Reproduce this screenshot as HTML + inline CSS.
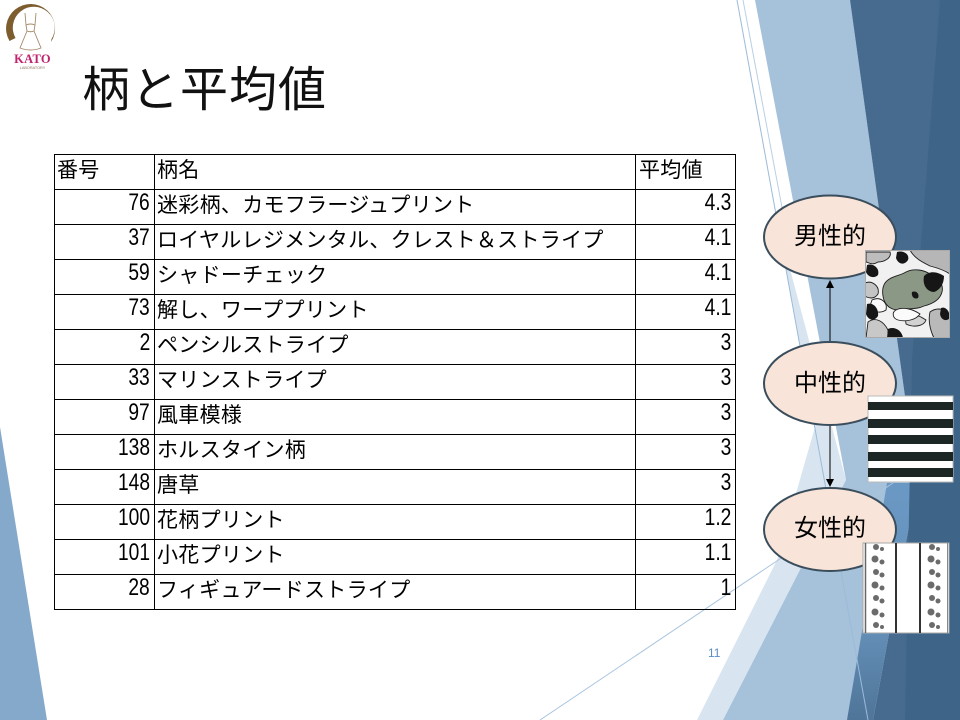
<!DOCTYPE html>
<html>
<head>
<meta charset="utf-8">
<style>
  html,body{margin:0;padding:0;}
  body{width:960px;height:720px;overflow:hidden;background:#ffffff;position:relative;
       font-family:"Liberation Sans","Noto Sans CJK JP",sans-serif;color:#000;}
  svg.layer{position:absolute;left:0;top:0;}
  .title{position:absolute;left:82px;top:67px;font-size:48px;line-height:48px;letter-spacing:1px;
         font-family:"Liberation Sans","Noto Sans CJK JP",sans-serif;white-space:nowrap;color:#111;}
  .t{position:absolute;height:35px;line-height:35px;font-size:21px;letter-spacing:0.3px;white-space:nowrap;}
  .num{position:absolute;height:24px;line-height:24px;font-size:24px;white-space:nowrap;text-align:right;}
  .num span{display:inline-block;transform:scaleX(0.8);transform-origin:right center;}
  .pg{position:absolute;left:708px;top:646px;font-size:12px;line-height:14px;color:#5a8dc2;}
</style>
</head>
<body>

<!-- background decoration -->
<svg class="layer" width="960" height="720" viewBox="0 0 960 720">
  <defs>
    <linearGradient id="mg" x1="0" y1="0" x2="0" y2="1">
      <stop offset="0" stop-color="#6a98c4"/>
      <stop offset="0.6" stop-color="#6590b9"/>
      <stop offset="1" stop-color="#4f7598"/>
    </linearGradient>
  </defs>
  <!-- left bottom triangle -->
  <polygon points="0,427 47,720 0,720" fill="#85a9cb"/>
  <!-- very light triangle -->
  <polygon points="777,220 846,480 723,720 697,720 777,560 815,427" fill="#d8e5f0"/>
  <!-- light band -->
  <polygon points="755,0 850,0 917,483 847,720 723,720 846,480" fill="#a6c1da"/>
  <!-- medium blue -->
  <polygon points="887,483 917,483 873,720 847,720" fill="url(#mg)"/>
  <!-- dark -->
  <polygon points="850,0 960,0 960,720 873,720 917,483" fill="#466b8e"/>
  <polygon points="940,0 960,0 960,720 905,720 912,360" fill="#3e6588"/>
  <!-- thin lines -->
  <line x1="737" y1="0" x2="868" y2="720" stroke="#9bbbd8" stroke-width="1"/>
  <line x1="743" y1="0" x2="790" y2="250" stroke="#b9cfe3" stroke-width="1"/>
  <line x1="540" y1="720" x2="893" y2="483" stroke="#a9c4de" stroke-width="1"/>

  <!-- logo -->
  <path d="M9.5,41 A24.5,24.5 0 1 1 51,42 L51.5,39 A21,21 0 1 0 15.5,38 Z" fill="#7d5c2e"/>
  <g fill="none" stroke="#a58a6a" stroke-width="0.9">
    <path d="M25,13 L26,25 M36,13 L35,25"/>
    <path d="M26,25 Q30.5,23 35,25 L34,31 Q30.5,32.5 27,31 Z"/>
    <path d="M27,31 L20,48 Q30.5,52 41,48 L34,31"/>
  </g>
  <text x="32.5" y="63" text-anchor="middle" font-family="Liberation Serif, serif" font-size="12.5" font-weight="bold" fill="#c0246e" letter-spacing="0.3">KATO</text>
  <text x="32.5" y="69" text-anchor="middle" font-family="Liberation Sans, sans-serif" font-size="3.8" fill="#8a7060">LABORATORY</text>
</svg>

<div class="title">柄と平均値</div>

<!-- table lines -->
<svg class="layer" width="960" height="720" viewBox="0 0 960 720">
  <g stroke="#000" stroke-width="1" shape-rendering="crispEdges">
    <line x1="54" y1="154.5" x2="735" y2="154.5"/>
    <line x1="54" y1="189.5" x2="735" y2="189.5"/>
    <line x1="54" y1="224.5" x2="735" y2="224.5"/>
    <line x1="54" y1="259.5" x2="735" y2="259.5"/>
    <line x1="54" y1="294.5" x2="735" y2="294.5"/>
    <line x1="54" y1="329.5" x2="735" y2="329.5"/>
    <line x1="54" y1="364.5" x2="735" y2="364.5"/>
    <line x1="54" y1="399.5" x2="735" y2="399.5"/>
    <line x1="54" y1="434.5" x2="735" y2="434.5"/>
    <line x1="54" y1="469.5" x2="735" y2="469.5"/>
    <line x1="54" y1="504.5" x2="735" y2="504.5"/>
    <line x1="54" y1="539.5" x2="735" y2="539.5"/>
    <line x1="54" y1="574.5" x2="735" y2="574.5"/>
    <line x1="54" y1="609.5" x2="735" y2="609.5"/>
    <line x1="54.5" y1="154" x2="54.5" y2="610"/>
    <line x1="154.5" y1="154" x2="154.5" y2="610"/>
    <line x1="635.5" y1="154" x2="635.5" y2="610"/>
    <line x1="735.5" y1="154" x2="735.5" y2="610"/>
  </g>
</svg>

<!-- header -->
<div class="t" style="left:57px;top:153px;">番号</div>
<div class="t" style="left:157px;top:153px;">柄名</div>
<div class="t" style="left:639px;top:153px;">平均値</div>

<!-- rows -->
<div class="num" style="left:54px;width:96px;top:191px;"><span>76</span></div>
<div class="t" style="left:157px;top:188px;">迷彩柄、カモフラージュプリント</div>
<div class="num" style="left:636px;width:95px;top:191px;"><span>4.3</span></div>

<div class="num" style="left:54px;width:96px;top:226px;"><span>37</span></div>
<div class="t" style="left:157px;top:223px;">ロイヤルレジメンタル、クレスト＆ストライプ</div>
<div class="num" style="left:636px;width:95px;top:226px;"><span>4.1</span></div>

<div class="num" style="left:54px;width:96px;top:261px;"><span>59</span></div>
<div class="t" style="left:157px;top:258px;">シャドーチェック</div>
<div class="num" style="left:636px;width:95px;top:261px;"><span>4.1</span></div>

<div class="num" style="left:54px;width:96px;top:296px;"><span>73</span></div>
<div class="t" style="left:157px;top:293px;">解し、ワーププリント</div>
<div class="num" style="left:636px;width:95px;top:296px;"><span>4.1</span></div>

<div class="num" style="left:54px;width:96px;top:331px;"><span>2</span></div>
<div class="t" style="left:157px;top:328px;">ペンシルストライプ</div>
<div class="num" style="left:636px;width:95px;top:331px;"><span>3</span></div>

<div class="num" style="left:54px;width:96px;top:366px;"><span>33</span></div>
<div class="t" style="left:157px;top:363px;">マリンストライプ</div>
<div class="num" style="left:636px;width:95px;top:366px;"><span>3</span></div>

<div class="num" style="left:54px;width:96px;top:401px;"><span>97</span></div>
<div class="t" style="left:157px;top:398px;">風車模様</div>
<div class="num" style="left:636px;width:95px;top:401px;"><span>3</span></div>

<div class="num" style="left:54px;width:96px;top:436px;"><span>138</span></div>
<div class="t" style="left:157px;top:433px;">ホルスタイン柄</div>
<div class="num" style="left:636px;width:95px;top:436px;"><span>3</span></div>

<div class="num" style="left:54px;width:96px;top:471px;"><span>148</span></div>
<div class="t" style="left:157px;top:468px;">唐草</div>
<div class="num" style="left:636px;width:95px;top:471px;"><span>3</span></div>

<div class="num" style="left:54px;width:96px;top:506px;"><span>100</span></div>
<div class="t" style="left:157px;top:503px;">花柄プリント</div>
<div class="num" style="left:636px;width:95px;top:506px;"><span>1.2</span></div>

<div class="num" style="left:54px;width:96px;top:541px;"><span>101</span></div>
<div class="t" style="left:157px;top:538px;">小花プリント</div>
<div class="num" style="left:636px;width:95px;top:541px;"><span>1.1</span></div>

<div class="num" style="left:54px;width:96px;top:576px;"><span>28</span></div>
<div class="t" style="left:157px;top:573px;">フィギュアードストライプ</div>
<div class="num" style="left:636px;width:95px;top:576px;"><span>1</span></div>

<div class="pg">11</div>

<!-- foreground: ellipses, arrows, images -->
<svg class="layer" width="960" height="720" viewBox="0 0 960 720">
  <!-- arrows -->
  <line x1="830" y1="342" x2="830" y2="287" stroke="#000" stroke-width="1"/>
  <polygon points="826,288 834,288 830,280" fill="#000"/>
  <line x1="830" y1="425" x2="830" y2="480" stroke="#000" stroke-width="1"/>
  <polygon points="826,479 834,479 830,487" fill="#000"/>

  <!-- ellipses -->
  <ellipse cx="830" cy="237" rx="66" ry="41.5" fill="#f8e4d8" stroke="#3a4d5c" stroke-width="2"/>
  <ellipse cx="830" cy="383.5" rx="66" ry="41.5" fill="#f8e4d8" stroke="#3a4d5c" stroke-width="2"/>
  <ellipse cx="830" cy="529.5" rx="66" ry="41.5" fill="#f8e4d8" stroke="#3a4d5c" stroke-width="2"/>
  <g font-family="Liberation Sans, Noto Sans CJK JP, sans-serif" font-size="24" text-anchor="middle" fill="#000">
    <text x="830" y="244">男性的</text>
    <text x="830" y="391">中性的</text>
    <text x="830" y="536">女性的</text>
  </g>

  <!-- camo image -->
  <g>
    <clipPath id="cc"><rect x="865" y="250" width="85" height="88"/></clipPath>
    <rect x="865" y="250" width="85" height="88" fill="#f1f1f1"/>
    <g clip-path="url(#cc)" stroke="#1e1e1e" stroke-width="0.9">
      <!-- gray patches -->
      <path d="M866,252 L890,252 C892,258 884,262 878,262 C872,266 868,262 866,262 Z" fill="#bdbdbd"/>
      <path d="M910,250 L950,250 L950,274 C944,270 938,268 930,266 C922,262 914,258 910,250 Z" fill="#b6b6b6"/>
      <path d="M865,283 C872,280 880,286 878,294 C874,300 868,298 865,296 Z" fill="#c4c4c4"/>
      <path d="M868,322 C876,316 884,322 888,330 L888,338 L866,338 Z" fill="#c8c8c8"/>
      <path d="M930,312 C938,306 948,310 950,316 L950,338 L934,338 C930,330 928,320 930,312 Z" fill="#b9b9b9"/>
      <path d="M905,315 C912,312 920,316 926,320 C924,326 914,328 906,324 Z" fill="#d2d2d2"/>
      <!-- green-gray central blob -->
      <path d="M885,283 C890,276 900,276 906,272 C914,268 924,270 930,274 C938,278 944,284 942,292 C940,300 932,304 924,306 C916,310 906,308 898,310 C890,310 884,304 883,296 C882,290 883,286 885,283 Z" fill="#8c9886"/>
      <!-- white shapes with outlines -->
      <path d="M896,310 C904,306 914,310 920,314 C916,320 906,322 898,320 C892,318 892,312 896,310 Z" fill="#fbfbfb"/>
      <path d="M872,300 C880,296 888,302 886,310 C880,314 872,312 870,306 Z" fill="#fafafa"/>
    </g>
    <g clip-path="url(#cc)" fill="#161616">
      <path d="M897,252 C903,250 910,254 908,260 C904,266 898,264 896,258 Z"/>
      <path d="M867,265 C873,263 880,268 878,275 C874,279 868,277 866,272 Z"/>
      <path d="M924,276 C930,270 938,272 944,276 C944,284 940,290 934,292 C928,292 922,286 924,276 Z"/>
      <path d="M867,304 C873,302 879,308 878,316 C874,322 868,320 866,314 Z"/>
      <path d="M888,329 C894,326 902,330 903,338 L887,338 Z"/>
      <path d="M941,308 C946,306 950,312 950,318 C946,322 941,320 940,314 Z"/>
      <path d="M912,292 C916,290 920,294 918,298 C914,300 911,296 912,292 Z"/>
    </g>
    <rect x="865.5" y="250.5" width="84" height="87" fill="none" stroke="#aaa" stroke-width="1"/>
  </g>

  <!-- stripes image -->
  <g>
    <rect x="868" y="396" width="85" height="86" fill="#ffffff" stroke="#bbb" stroke-width="1"/>
    <rect x="868" y="402" width="85" height="8" fill="#1c2624"/>
    <rect x="868" y="419" width="85" height="9" fill="#1c2624"/>
    <rect x="868" y="435" width="85" height="9" fill="#1c2624"/>
    <rect x="868" y="452" width="85" height="9" fill="#1c2624"/>
    <rect x="868" y="468" width="85" height="9" fill="#1c2624"/>
  </g>

  <!-- floral image -->
  <g>
    <rect x="863" y="543" width="86" height="90" fill="#ffffff" stroke="#aaa" stroke-width="1"/>
    <line x1="865.5" y1="543" x2="865.5" y2="633" stroke="#666" stroke-width="1.5"/>
    <line x1="896" y1="543" x2="896" y2="633" stroke="#333" stroke-width="2"/>
    <line x1="920" y1="543" x2="920" y2="633" stroke="#333" stroke-width="2"/>
    <line x1="947.5" y1="543" x2="947.5" y2="633" stroke="#888" stroke-width="1"/>
    <g fill="#6b6b6b">
      <circle cx="876" cy="547" r="3"/><circle cx="882" cy="549" r="2"/>
      <circle cx="875" cy="559" r="3.5"/><circle cx="882" cy="562" r="2.5"/>
      <circle cx="876" cy="572" r="3"/><circle cx="882" cy="575" r="2.5"/>
      <circle cx="875" cy="585" r="3.5"/><circle cx="882" cy="588" r="2.5"/>
      <circle cx="876" cy="598" r="3"/><circle cx="882" cy="601" r="2.5"/>
      <circle cx="875" cy="612" r="3.5"/><circle cx="882" cy="615" r="2.5"/>
      <circle cx="876" cy="625" r="3"/><circle cx="882" cy="627" r="2"/>
      <circle cx="932" cy="547" r="3"/><circle cx="938" cy="549" r="2"/>
      <circle cx="931" cy="559" r="3.5"/><circle cx="938" cy="562" r="2.5"/>
      <circle cx="932" cy="572" r="3"/><circle cx="938" cy="575" r="2.5"/>
      <circle cx="931" cy="585" r="3.5"/><circle cx="938" cy="588" r="2.5"/>
      <circle cx="932" cy="598" r="3"/><circle cx="938" cy="601" r="2.5"/>
      <circle cx="931" cy="612" r="3.5"/><circle cx="938" cy="615" r="2.5"/>
      <circle cx="932" cy="625" r="3"/><circle cx="938" cy="627" r="2"/>
    </g>
  </g>
</svg>

</body>
</html>
